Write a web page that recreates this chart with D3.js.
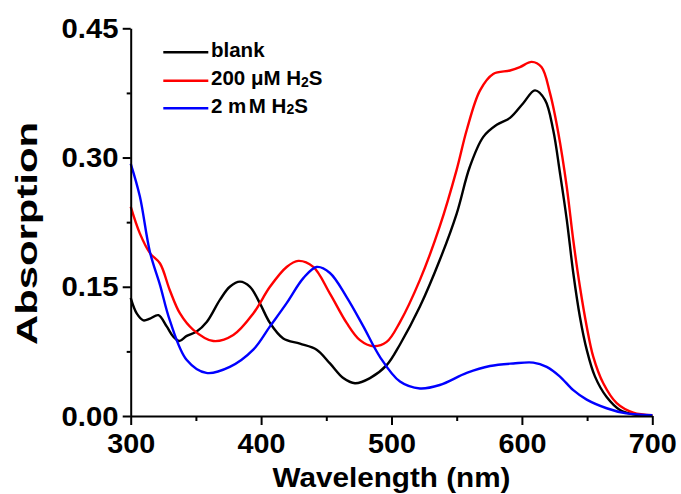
<!DOCTYPE html>
<html>
<head>
<meta charset="utf-8">
<script src="https://cdn.jsdelivr.net/npm/d3@7"></script>
<style>
  html, body { margin: 0; padding: 0; background: #fff; }
  svg { display: block; }
  text { font-family: "Liberation Sans", Arial, sans-serif; font-weight: bold; fill: #000; }
</style>
</head>
<body>
<svg id="chart" width="681" height="494"></svg>
<script>
// UV-vis absorption spectra (wavelength in nm, absorbance)
const blankNm  = [300, 304.6, 309.7, 314.8, 321.2, 327.6, 332.7, 337.3, 343, 350.6, 358.3, 368.5, 376, 383.8, 391.5, 399, 406.8, 417, 429.8, 442.6, 452.8, 463, 472, 483.5, 496.3, 506.5, 521.8, 537, 550, 560, 570.4, 580.7, 590.9, 601, 610, 617.7, 624, 629.2, 634.4, 639.4, 644.5, 649.7, 656, 665, 675.2, 685.4, 700];
const blankAbs = [0.137, 0.119, 0.111, 0.113, 0.117, 0.104, 0.092, 0.087, 0.093, 0.098, 0.109, 0.135, 0.150, 0.156, 0.150, 0.131, 0.108, 0.090, 0.084, 0.077, 0.061, 0.044, 0.038, 0.044, 0.059, 0.083, 0.127, 0.181, 0.235, 0.289, 0.324, 0.338, 0.346, 0.363, 0.378, 0.367, 0.332, 0.282, 0.228, 0.166, 0.115, 0.077, 0.046, 0.022, 0.007, 0.002, 0.001];

const h2s200Nm  = [300, 307, 314.8, 322.5, 330, 337.8, 348, 363.3, 378.7, 394, 406.8, 419.6, 428.5, 440, 452.8, 465.6, 475.8, 486, 496.3, 506.5, 521.8, 537, 550, 557.7, 567.9, 578, 590.9, 598.5, 607.5, 615, 621.5, 628, 634.4, 639.4, 644.5, 649.7, 654.7, 662.4, 672.7, 685.4, 700];
const h2s200Abs = [0.243, 0.212, 0.189, 0.177, 0.146, 0.119, 0.100, 0.087, 0.094, 0.119, 0.150, 0.173, 0.180, 0.173, 0.142, 0.108, 0.088, 0.081, 0.086, 0.109, 0.158, 0.220, 0.286, 0.332, 0.378, 0.397, 0.401, 0.405, 0.411, 0.405, 0.375, 0.328, 0.266, 0.204, 0.150, 0.104, 0.069, 0.038, 0.015, 0.004, 0.001];

const h2s2mNm  = [300, 307, 314.8, 322.5, 330, 343, 358, 376, 394, 406.8, 419.6, 432.4, 442.6, 452.8, 465.6, 478.4, 491, 506.5, 521.8, 537, 557.7, 575.5, 593.4, 608.7, 619, 629, 639.4, 649.7, 665, 680, 700];
const h2s2mAbs = [0.293, 0.255, 0.190, 0.152, 0.111, 0.065, 0.050, 0.057, 0.077, 0.104, 0.131, 0.160, 0.173, 0.166, 0.138, 0.104, 0.069, 0.040, 0.032, 0.036, 0.050, 0.058, 0.061, 0.062, 0.057, 0.046, 0.030, 0.019, 0.009, 0.003, 0.001];

const seriesNames  = ["blank", "200 μM H2S", "2 mM H2S"];
const seriesColors = ["#000000", "#ff0000", "#0000ff"];

const xMajorTicks = [300, 400, 500, 600, 700];
const xMinorTicks = [350, 450, 550, 650];
const yMajorTicks = [0, 0.15, 0.30, 0.45];
const yMinorTicks = [0.075, 0.225, 0.375];

const svg = d3.select("#chart");

const x = d3.scaleLinear().domain([300, 700]).range([130.7, 652.3]);
const y = d3.scaleLinear().domain([0, 0.45]).range([416, 28.3]);

const series = [
  { name: seriesNames[0], color: seriesColors[0], nm: blankNm,  abs: blankAbs },
  { name: seriesNames[1], color: seriesColors[1], nm: h2s200Nm, abs: h2s200Abs },
  { name: seriesNames[2], color: seriesColors[2], nm: h2s2mNm,  abs: h2s2mAbs }
];

// spectra
const line = d3.line()
  .x(d => x(d[0]))
  .y(d => y(d[1]))
  .curve(d3.curveCatmullRom.alpha(0.5));

svg.append("g").selectAll("path")
  .data(series)
  .join("path")
  .attr("d", s => line(s.nm.map((v, i) => [v, s.abs[i]])))
  .attr("fill", "none")
  .attr("stroke", s => s.color)
  .attr("stroke-width", 2.4)
  .attr("stroke-linejoin", "round");

// x axis
const xAxisY = y(0);
const gx = svg.append("g").attr("transform", `translate(0,${xAxisY})`);
gx.call(d3.axisBottom(x).tickValues(xMajorTicks).tickSize(9).tickSizeOuter(0).tickFormat(d3.format("d")));
gx.append("g").call(d3.axisBottom(x).tickValues(xMinorTicks).tickSize(5).tickSizeOuter(0).tickFormat(""))
  .select(".domain").remove();
gx.selectAll(".tick text")
  .attr("y", 36.7).attr("dy", null)
  .attr("font-size", 27)
  .attr("textLength", 48).attr("lengthAdjust", "spacingAndGlyphs");

// y axis
const gy = svg.append("g").attr("transform", `translate(${x(300)},0)`);
gy.call(d3.axisLeft(y).tickValues(yMajorTicks).tickSize(8).tickSizeOuter(0).tickFormat(d3.format(".2f")));
gy.append("g").call(d3.axisLeft(y).tickValues(yMinorTicks).tickSize(4).tickSizeOuter(0).tickFormat(""))
  .select(".domain").remove();
gy.selectAll(".tick text")
  .attr("x", -12.2).attr("dy", "0.34em")
  .attr("font-size", 27)
  .attr("textLength", 57).attr("lengthAdjust", "spacingAndGlyphs");

svg.selectAll(".domain, .tick line").attr("stroke", "#000").attr("stroke-width", 2);
svg.selectAll(".tick text").attr("fill", "#000").style("font-family", "'Liberation Sans', Arial, sans-serif").style("font-weight", "bold");

// axis titles
svg.append("text")
  .attr("x", (x(300) + x(700)) / 2).attr("y", 486.7)
  .attr("text-anchor", "middle")
  .attr("font-size", 27)
  .attr("textLength", 238).attr("lengthAdjust", "spacingAndGlyphs")
  .text("Wavelength (nm)");

svg.append("text")
  .attr("transform", "translate(36.5,233.5) rotate(-90)")
  .attr("text-anchor", "middle")
  .attr("font-size", 29)
  .attr("textLength", 223).attr("lengthAdjust", "spacingAndGlyphs")
  .text("Absorption");

// legend
const legendRows = [52.3, 80.7, 108.3];
const legend = svg.append("g");
series.forEach((s, i) => {
  const ly = legendRows[i];
  legend.append("line")
    .attr("x1", 163.3).attr("x2", 208.3)
    .attr("y1", ly).attr("y2", ly)
    .attr("stroke", s.color).attr("stroke-width", 2.4);
  const t = legend.append("text")
    .attr("x", 211).attr("y", ly + 4.6)
    .attr("font-size", 20.5);
  const m = s.name.match(/^(.*H)2(S)$/);
  if (m) {
    if (i === 2) {
      t.append("tspan").text("2 m");
      t.append("tspan").attr("dx", 2.5).text("M H");
    } else {
      t.append("tspan").text(m[1]);
    }
    t.append("tspan").attr("font-size", 14).attr("dy", 1.5).text("2");
    t.append("tspan").attr("dy", -1.5).text(m[2]);
  } else {
    t.text(s.name);
  }
});
</script>
</body>
</html>
